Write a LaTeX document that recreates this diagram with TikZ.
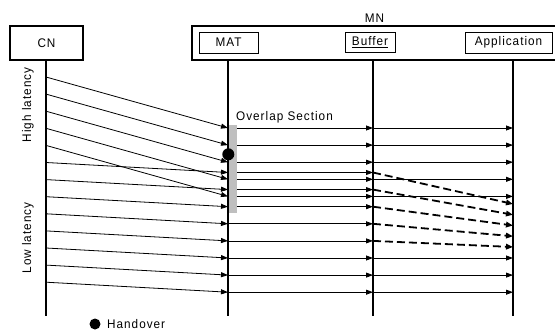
\documentclass[tikz,border=0pt]{standalone}
\usepackage{fontspec}
\setmainfont{Liberation Sans}[FakeStretch=0.94, LetterSpace=8]
\usetikzlibrary{arrows.meta}

\tikzset{
  lbl/.style={inner sep=0pt, font=\fontsize{12.5}{14}\selectfont},
  box/.style={lbl, draw, line width=0.9pt},
  frame/.style={line width=1.3pt},
  life/.style={line width=1.2pt},
  msg/.style={line width=0.8pt, -{Triangle[length=7pt,width=5pt]}},
  late/.style={line width=1.8pt, dash pattern=on 8pt off 4pt,
               -{Triangle[length=7pt,width=5.5pt]}},
  overlap/.style={fill=black!25, draw=none}
}

\begin{document}
\begin{tikzpicture}[x=1pt,y=-1pt]
\useasboundingbox (0,0) rectangle (555,332);

% entities
\node[box, frame, minimum width=73pt, minimum height=34pt] (cn) at (46.5,43) {CN};
\draw[frame] (556,26) -- (192,26) -- (192,60) -- (556,60);
\node[lbl] (mn) at (374.5,18) {MN};
\node[box, minimum width=59pt, minimum height=21pt] (mat) at (228.5,42.5) {MAT};
\node[box, minimum width=50pt, minimum height=20pt] (buf) at (370,42.5) {\underline{Buffer}};
\node[box, minimum width=87pt, minimum height=21pt] (app) at (508.5,42.5) {Application};

% lifelines
\coordinate (cnT) at (46,60);   \coordinate (cnB) at (46,316);
\coordinate (matT) at (228,60); \coordinate (matB) at (228,316);
\coordinate (bufT) at (373,60); \coordinate (bufB) at (373,316);
\coordinate (appT) at (513,60); \coordinate (appB) at (513,316);
\foreach \l in {cn,mat,buf,app} \draw[life] (\l T) -- (\l B);

% packets sent during high latency
\foreach \k in {0,...,4} {
  \pgfmathsetmacro\ys{77+17.1*\k}
  \pgfmathsetmacro\ye{\ys+51}
  \coordinate (h\k s) at (46,\ys);
  \coordinate (h\k m) at (228,\ye);
  \coordinate (h\k b) at (373,\ye);
  \coordinate (h\k a) at (513,\ye);
  \draw[msg] (h\k s) -- (h\k m);
  \draw[msg] (h\k m) -- (h\k b);
  \draw[msg] (h\k b) -- (h\k a);
}

% packets sent during low latency
\foreach \k in {5,...,12} {
  \pgfmathsetmacro\ys{77+17.1*\k}
  \pgfmathsetmacro\ye{\ys+10}
  \coordinate (l\k s) at (46,\ys);
  \coordinate (l\k m) at (228,\ye);
  \coordinate (l\k b) at (373,\ye);
  \draw[msg] (l\k s) -- (l\k m);
  \draw[msg] (l\k m) -- (l\k b);
}
% buffered packets released in order
\foreach \k in {5,...,9} {
  \pgfmathsetmacro\yd{204+10.75*(\k-5)}
  \coordinate (l\k a) at (513,\yd);
  \draw[late] (l\k b) -- (l\k a);
}
\foreach \k in {10,...,12} {
  \pgfmathsetmacro\ye{77+17.1*\k+10}
  \coordinate (l\k a) at (513,\ye);
  \draw[msg] (l\k b) -- (l\k a);
}

% overlap section and handover
\fill[overlap] (229,125) rectangle (237,213);
\node[lbl, anchor=west] (ovl) at (236,117) {Overlap Section};
\fill (228.3,154.3) circle (6pt);

% latency labels
\node[lbl, rotate=90] (hl) at (28,105) {High latency};
\node[lbl, rotate=90] (ll) at (28,238) {Low latency};

% legend
\fill (95,324) circle (5.5pt);
\node[lbl, anchor=west] (ho) at (107,324) {Handover};
\end{tikzpicture}
\end{document}
